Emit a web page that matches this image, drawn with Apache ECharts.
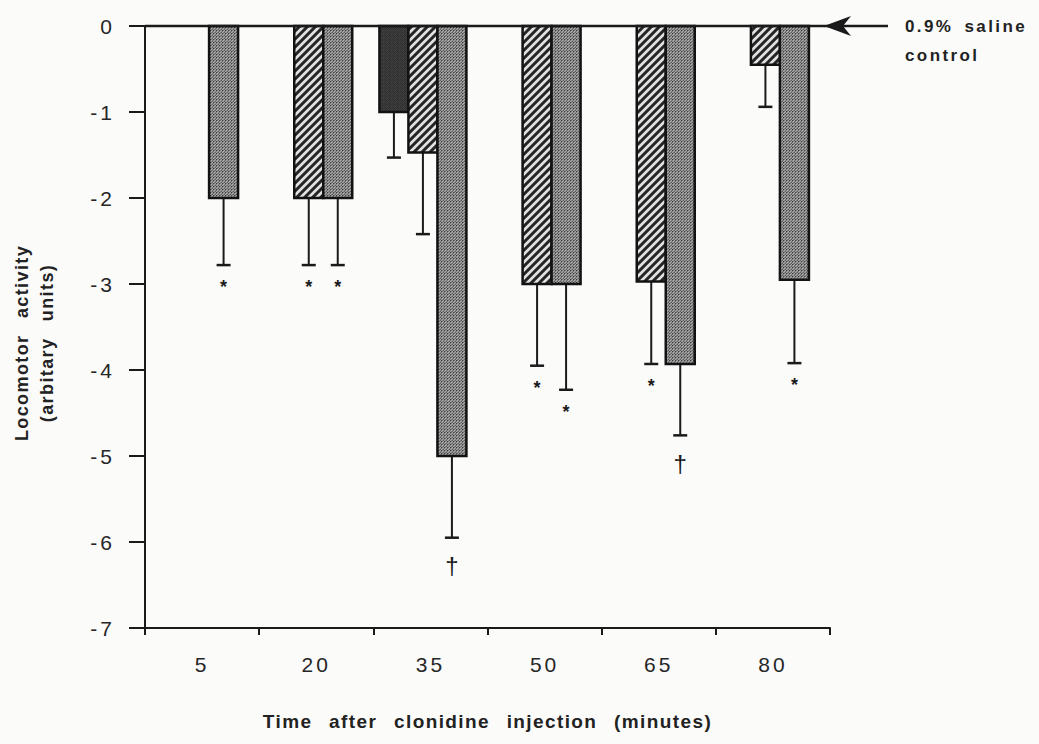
<!DOCTYPE html>
<html>
<head>
<meta charset="utf-8">
<script src="https://cdn.jsdelivr.net/npm/echarts@6/dist/echarts.min.js"></script>
<style>
  html, body { margin: 0; padding: 0; background: #fbfbfa; }
  #chart { width: 1039px; height: 744px; }
</style>
</head>
<body>
<div id="chart"></div>
<script>
// Time points after clonidine injection (minutes)
const timePoints = ['5', '20', '35', '50', '65', '80'];

// Group means and standard errors (arbitrary units); null = no bar
const darkMean  = [null, null, -1.0, null, null, null];
const darkSE    = [null, null, 0.53, null, null, null];
const hatchMean = [null, -2.0, -1.47, -3.0, -2.97, -0.45];
const hatchSE   = [null, 0.78, 0.95, 0.95, 0.96, 0.49];
const dotMean   = [-2.0, -2.0, -5.0, -3.0, -3.93, -2.95];
const dotSE     = [0.78, 0.78, 0.95, 1.23, 0.83, 0.97];

// Significance marks under the error bars
const darkSig  = ['', '', '', '', '', ''];
const hatchSig = ['', '*', '', '*', '*', ''];
const dotSig   = ['*', '*', '\u2020', '*', '\u2020', '*'];

// Y axis range
const yMin = -7, yMax = 0, yStep = 1;

// Text
const xTitle = 'Time after clonidine injection (minutes)';
const yTitle = 'Locomotor activity\n(arbitary units)';
const controlNote = ['0.9% saline', 'control'];

const FONT = '"Liberation Sans", Arial, Helvetica, sans-serif';
const INK = '#1a1a1a';
const GRID = { left: 145, right: 209, top: 26, bottom: 116 };
const W = 1039, H = 744;

// bar geometry as fractions of the category band
const BAR_FRAC = 0.254;
const OFF_DARK = -0.4467, OFF_HATCH = -0.1927, OFF_DOT = 0.0613;

// small repeating fill tiles
function tile(size, shade) {
  const c = document.createElement('canvas');
  c.width = size; c.height = size;
  const ctx = c.getContext('2d');
  const img = ctx.createImageData(size, size);
  for (let y = 0; y < size; y++) {
    for (let x = 0; x < size; x++) {
      const g = shade(x, y);
      const k = (y * size + x) * 4;
      img.data[k] = g; img.data[k + 1] = g; img.data[k + 2] = g; img.data[k + 3] = 255;
    }
  }
  ctx.putImageData(img, 0, 0);
  return { image: c.toDataURL(), imageWidth: size, imageHeight: size, repeat: 'repeat' };
}

const darkTex = [[50, 62, 44, 58], [66, 48, 60, 52], [46, 58, 54, 68], [60, 44, 64, 50]];
const darkFill = tile(4, (x, y) => darkTex[y][x]);
const hatchFill = tile(8, (x, y) => {
  const v = (x + y) % 8;
  if (v === 0 || v === 1 || v === 2) return 225;
  if (v === 3) return 130;
  if (v === 7) return 100;
  return 36;
});
const dotTex = [[60, 120, 165], [120, 175, 130], [165, 130, 95]];
const dotFill = tile(3, (x, y) => dotTex[y][x]);

function groupSeries(name, means, ses, sigs, fill, offset) {
  const data = [];
  means.forEach((m, i) => { if (m != null) data.push([i, m, ses[i]]); });
  return {
    type: 'custom',
    name: name,
    data: data,
    encode: { x: 0, y: 1 },
    silent: true,
    animation: false,
    renderItem: function (params, api) {
      const i = api.value(0), mean = api.value(1), se = api.value(2);
      const band = api.size([1, 0])[0];
      const base = api.coord([i, 0]);
      const yEnd = api.coord([i, mean])[1];
      const yErr = api.coord([i, mean - se])[1];
      const w = band * BAR_FRAC;
      const x = base[0] + band * offset;
      const cx = x + w / 2;
      const children = [
        { type: 'line', shape: { x1: cx, y1: yEnd, x2: cx, y2: yErr },
          style: { stroke: INK, lineWidth: 2 } },
        { type: 'line', shape: { x1: cx - 7, y1: yErr, x2: cx + 7, y2: yErr },
          style: { stroke: INK, lineWidth: 2.5 } },
        { type: 'rect', shape: { x: x, y: base[1], width: w, height: yEnd - base[1] },
          style: { fill: fill, stroke: '#121212', lineWidth: 2.5 } }
      ];
      const s = sigs[i];
      if (s) {
        const dagger = s !== '*';
        children.push({
          type: 'text',
          x: cx,
          y: yErr + (dagger ? 28 : 22),
          style: {
            text: s,
            fill: INK,
            font: (dagger ? 'normal 24px ' : 'bold 18px ') + FONT,
            align: 'center',
            verticalAlign: 'middle'
          }
        });
      }
      return { type: 'group', children: children };
    }
  };
}

const chart = echarts.init(document.getElementById('chart'), null, { renderer: 'svg', width: W, height: H });

chart.setOption({
  animation: false,
  backgroundColor: '#fbfbfa',
  grid: { left: GRID.left, right: GRID.right, top: GRID.top, bottom: GRID.bottom, containLabel: false },
  xAxis: {
    type: 'category',
    data: timePoints,
    position: 'bottom',
    axisLine: { onZero: false, lineStyle: { color: INK, width: 2 } },
    axisTick: { show: true, length: 7, lineStyle: { color: INK, width: 2 } },
    axisLabel: { color: '#262626', fontSize: 21, fontFamily: FONT, margin: 26 },
    splitLine: { show: false },
    name: xTitle,
    nameLocation: 'middle',
    nameGap: 84,
    nameTextStyle: { color: '#222', fontSize: 19, fontWeight: 'bold', fontFamily: FONT }
  },
  yAxis: {
    type: 'value',
    min: yMin,
    max: yMax,
    interval: yStep,
    axisLine: { show: true, lineStyle: { color: INK, width: 2 } },
    axisTick: { show: true, length: 16, lineStyle: { color: INK, width: 2 } },
    axisLabel: { color: '#262626', fontSize: 21, fontFamily: FONT, margin: 30 },
    splitLine: { show: false },
    name: yTitle,
    nameLocation: 'middle',
    nameGap: 86,
    nameRotate: 90,
    nameTextStyle: { color: '#222', fontSize: 18, fontWeight: 'bold', fontFamily: FONT,
                     lineHeight: 25, padding: [0, 32, 0, 0] }
  },
  series: [
    groupSeries('dark', darkMean, darkSE, darkSig, darkFill, OFF_DARK),
    groupSeries('hatched', hatchMean, hatchSE, hatchSig, hatchFill, OFF_HATCH),
    groupSeries('dotted', dotMean, dotSE, dotSig, dotFill, OFF_DOT)
  ]
});

// zero reference line with the arrow pointing at it, and its label
const y0 = chart.convertToPixel({ yAxisIndex: 0 }, 0);
const plotRight = W - GRID.right;
const tipX = plotRight - 6;
chart.setOption({
  graphic: [
    { type: 'line', silent: true, z: 10,
      shape: { x1: GRID.left, y1: y0, x2: tipX + 64, y2: y0 },
      style: { stroke: INK, lineWidth: 2.5 } },
    { type: 'polygon', silent: true, z: 10,
      shape: { points: [[tipX, y0], [tipX + 27, y0 - 10], [tipX + 19, y0], [tipX + 27, y0 + 10]] },
      style: { fill: INK } },
    { type: 'text', silent: true, x: tipX + 81, y: y0,
      style: { text: controlNote[0], fill: '#222', font: 'bold 17px ' + FONT, verticalAlign: 'middle' } },
    { type: 'text', silent: true, x: tipX + 81, y: y0 + 29,
      style: { text: controlNote[1], fill: '#222', font: 'bold 17px ' + FONT, verticalAlign: 'middle' } }
  ]
});

// typewriter-like spacing of the printed lettering
function spaceText() {
  const titles = new Set([xTitle].concat(yTitle.split('\n')));
  const notes = new Set(controlNote);
  document.querySelectorAll('#chart svg text').forEach(t => {
    const s = (t.textContent || '').trim();
    let ls = null, ws = null;
    if (titles.has(s)) { ls = 1.4; ws = 10; }
    else if (notes.has(s)) { ls = 2.4; ws = 4; }
    else if (/^-?\d+$/.test(s)) { ls = 3; }
    if (ls !== null) {
      t.setAttribute('letter-spacing', ls);
      t.style.letterSpacing = ls + 'px';
    }
    if (ws !== null) {
      t.setAttribute('word-spacing', ws);
      t.style.wordSpacing = ws + 'px';
    }
  });
}
spaceText();
chart.on('finished', spaceText);
</script>
</body>
</html>
